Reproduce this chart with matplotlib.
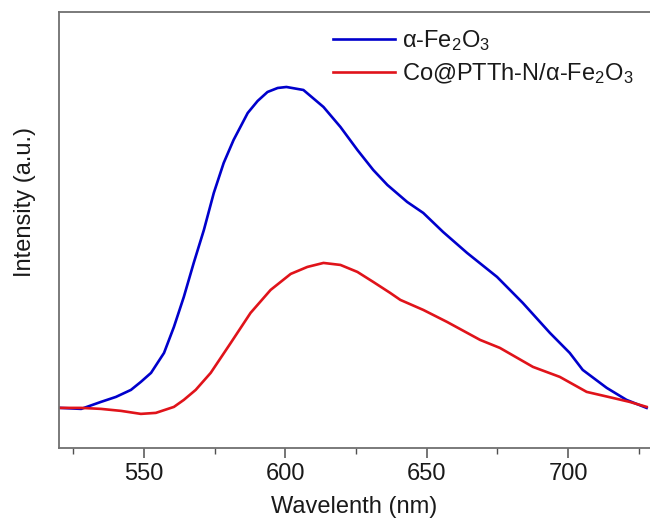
import numpy as np
import matplotlib
matplotlib.use("Agg")
import matplotlib.pyplot as plt
from matplotlib.ticker import MultipleLocator

plt.rcParams['font.family'] = ['Liberation Sans', 'DejaVu Sans']
plt.rcParams['mathtext.fontset'] = 'custom'
plt.rcParams['mathtext.rm'] = 'Liberation Sans'
plt.rcParams['mathtext.it'] = 'Liberation Sans:italic'

# PL spectra (wavelength in nm, intensity in a.u.)
wl_fe2o3 = [520.4, 527.8, 534.8, 540.1, 545.4, 548.9, 552.5, 557.1, 560.6, 564.1,
            567.6, 571.2, 574.7, 578.2, 581.7, 586.7, 590.2, 593.7, 597.3, 600.4,
            606.4, 613.5, 619.5, 625.5, 631.1, 636.1, 643.1, 648.8, 655.8, 664.3,
            674.9, 684.0, 693.6, 700.6, 705.2, 713.7, 720.7, 727.8]
int_fe2o3 = [40, 39, 46, 51, 58, 66, 75, 95, 121, 151,
             185, 218, 255, 285, 308, 335, 347, 356, 360, 361,
             358, 341, 321, 298, 278, 263, 246, 235, 216, 195,
             171, 145, 115, 95, 78, 60, 48, 40]

wl_co = [520.4, 527.8, 534.8, 541.9, 548.9, 554.2, 560.6, 564.1, 568.3, 573.6,
         580.7, 587.7, 594.8, 601.9, 607.8, 613.5, 619.5, 625.5, 631.1, 637.1,
         640.7, 648.8, 657.2, 668.9, 675.9, 687.6, 697.1, 706.6, 715.8, 721.8,
         727.8]
int_co = [40, 40, 39, 37, 34, 35, 41, 48, 58, 75,
          105, 135, 158, 174, 181, 185, 183, 176, 166, 155,
          148, 138, 126, 108, 100, 81, 71, 56, 50, 46,
          41]

label_fe2o3 = r'α-Fe$_2$O$_3$'
label_co = r'Co@PTTh-N/α-Fe$_2$O$_3$'

fig = plt.figure(figsize=(6.5, 5.22), dpi=100)
ax = fig.add_axes([0.091, 0.142, 0.909, 0.835])

ax.plot(wl_fe2o3, int_fe2o3, color='#0000CC', lw=1.9, label=label_fe2o3)
ax.plot(wl_co, int_co, color='#E0131A', lw=1.9, label=label_co)

ax.set_xlim(520, 729)
ax.set_ylim(0, 436)
ax.xaxis.set_major_locator(MultipleLocator(50))
ax.xaxis.set_minor_locator(MultipleLocator(25))
ax.set_yticks([])

for side in ['left', 'bottom', 'top']:
    ax.spines[side].set_color('#707070')
    ax.spines[side].set_linewidth(1.3)
ax.spines['right'].set_visible(False)

ax.tick_params(axis='x', which='major', length=7, width=1.1, color='#505050',
               labelsize=17, labelcolor='#1a1a1a', pad=4)
ax.tick_params(axis='x', which='minor', length=4, width=1.0, color='#505050')

ax.set_xlabel('Wavelenth (nm)', fontsize=17, color='#1a1a1a', labelpad=8)
ax.set_ylabel('Intensity (a.u.)', fontsize=17, color='#1a1a1a')
ax.yaxis.set_label_coords(-0.04, 0.564)

leg = ax.legend(loc='upper right', bbox_to_anchor=(1.0, 1.0), frameon=False,
                fontsize=17, handlelength=2.6, handletextpad=0.3,
                labelspacing=0.35, borderaxespad=0.3)
for t in leg.get_texts():
    t.set_color('#1a1a1a')

fig.savefig('out.png', dpi=100)
